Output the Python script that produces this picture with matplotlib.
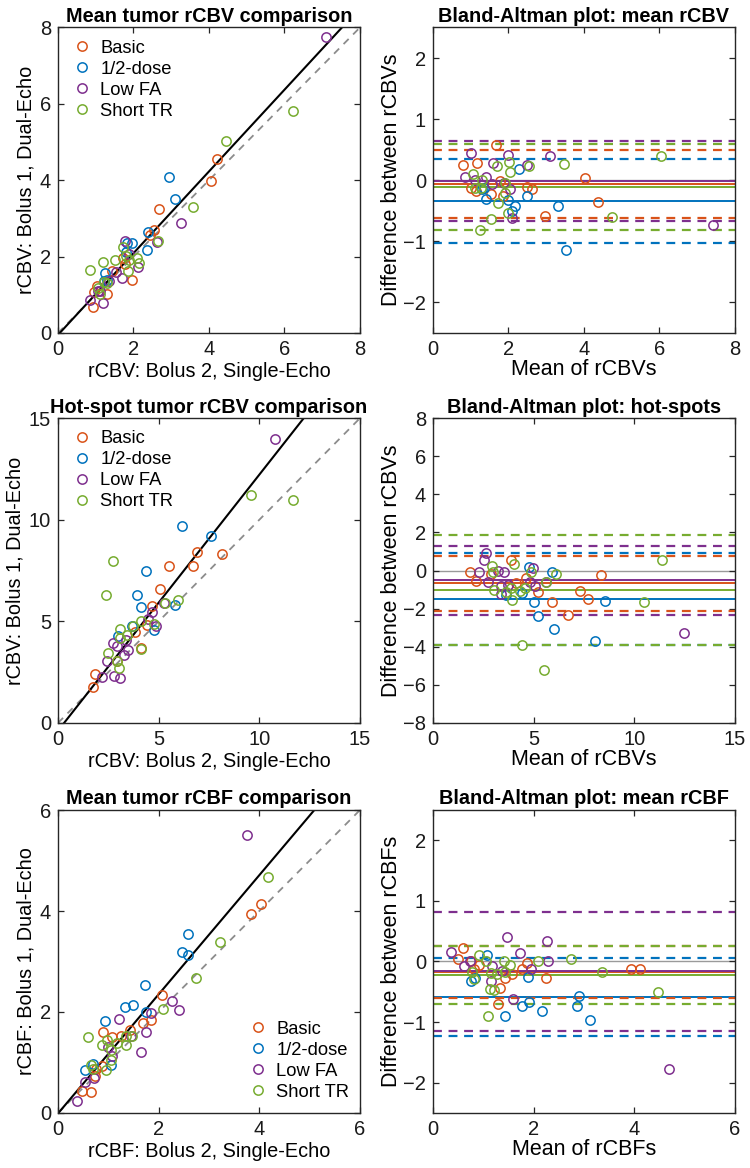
import matplotlib
matplotlib.use('Agg')
import matplotlib.pyplot as plt
from matplotlib.lines import Line2D

plt.rcParams['font.family'] = ['Liberation Sans', 'DejaVu Sans']

groups = ['Basic', '1/2-dose', 'Low FA', 'Short TR']
colors = ['#D95319', '#0072BD', '#7E2F8E', '#77AC30']

# ---------- Panel A: mean tumor rCBV (x: Bolus 2 single-echo, y: Bolus 1 dual-echo)
cbv_x = [
    [4.20, 4.06, 2.68, 2.55, 2.44, 1.96, 1.42, 1.30, 0.92, 1.72, 1.77, 1.04, 0.95],
    [2.95, 3.10, 2.38, 2.36, 1.95, 1.84, 1.80, 1.25, 1.30, 1.22],
    [7.09, 3.25, 2.62, 1.78, 2.12, 1.70, 1.20, 0.86, 1.53, 1.35, 1.88, 1.05, 1.10],
    [6.22, 4.45, 3.58, 2.64, 1.85, 2.14, 2.08, 1.12, 1.30, 1.06, 1.22, 1.88, 1.80, 1.52, 1.20, 1.72, 0.84],
]
cbv_y = [
    [4.55, 3.99, 3.24, 2.70, 2.56, 1.38, 1.63, 1.02, 0.68, 1.97, 1.80, 1.23, 1.08],
    [4.08, 3.52, 2.64, 2.16, 2.35, 2.36, 2.12, 1.56, 1.40, 1.35],
    [7.76, 2.87, 2.39, 2.41, 1.74, 1.45, 0.78, 0.87, 1.61, 1.35, 2.08, 1.09, 1.10],
    [5.82, 5.02, 3.30, 2.42, 1.62, 1.82, 1.96, 1.02, 1.30, 1.18, 1.34, 1.92, 2.02, 1.90, 1.86, 2.26, 1.64],
]
cbv_fit = (1.07, -0.05)  # slope, intercept

# ---------- Panel B: Bland-Altman mean rCBV
ba_cbv_mean = [
    [4.38, 4.03, 2.96, 2.63, 2.50, 1.67, 1.53, 1.16, 0.80, 1.85, 1.78, 1.13, 1.01],
    [3.52, 3.32, 2.50, 2.27, 2.16, 2.10, 2.00, 1.41, 1.34, 1.30],
    [7.43, 3.09, 2.50, 2.10, 1.98, 1.60, 1.02, 0.85, 1.57, 1.40, 2.04, 1.10, 1.88],
    [6.05, 4.75, 3.46, 2.54, 1.70, 2.01, 2.04, 1.07, 1.31, 1.12, 1.27, 1.91, 1.92, 1.73, 1.55, 1.99, 1.25],
]
ba_cbv_diff = [
    [-0.36, 0.04, -0.59, -0.15, -0.11, 0.58, -0.22, 0.29, 0.25, -0.26, -0.01, -0.18, -0.12],
    [-1.14, -0.42, -0.26, 0.19, -0.42, -0.51, -0.32, -0.31, -0.12, -0.14],
    [-0.74, 0.39, 0.25, -0.62, 0.42, 0.28, 0.44, 0.05, -0.06, 0.05, -0.15, 0.01, -0.04],
    [0.39, -0.60, 0.26, 0.24, 0.23, 0.30, 0.13, 0.10, 0.01, -0.12, -0.12, -0.04, -0.21, -0.38, -0.63, -0.54, -0.81],
]
ba_cbv_bias = [-0.06, -0.34, -0.005, -0.105]
ba_cbv_upper = [0.50, 0.345, 0.65, 0.60]
ba_cbv_lower = [-0.62, -1.02, -0.66, -0.81]

# ---------- Panel C: hot-spot tumor rCBV
hot_x = [
    [6.92, 8.16, 6.72, 5.51, 5.05, 4.65, 4.44, 3.81, 1.84, 1.75, 2.91, 4.11],
    [6.14, 7.62, 4.39, 3.91, 4.14, 5.79, 4.77, 3.69, 3.00],
    [10.76, 5.26, 4.67, 4.49, 4.86, 3.38, 2.71, 2.95, 3.48, 3.27, 2.42, 2.19, 2.78, 3.10],
    [11.69, 9.57, 2.75, 2.37, 5.30, 5.96, 4.78, 4.11, 3.72, 3.08, 3.08, 4.11, 2.50, 2.95, 3.03, 3.41],
]
hot_y = [
    [8.39, 8.33, 7.74, 7.74, 6.61, 5.77, 4.84, 4.46, 2.41, 1.75, 3.03, 3.69],
    [9.70, 9.18, 7.46, 6.28, 5.70, 5.82, 4.56, 4.79, 4.30],
    [13.97, 5.92, 5.47, 5.11, 4.75, 4.10, 3.95, 3.77, 3.57, 3.36, 3.03, 2.25, 2.33, 2.21],
    [10.95, 11.23, 7.98, 6.28, 5.92, 6.07, 4.85, 5.00, 4.79, 4.64, 4.20, 3.66, 3.44, 3.03, 2.70, 4.34],
]
hot_fit = (1.26, -0.38)

# ---------- Panel D: Bland-Altman hot-spots
ba_hot_mean = [
    [7.70, 8.36, 7.29, 6.71, 5.91, 5.22, 4.64, 4.14, 2.16, 1.82, 2.90, 3.86],
    [8.03, 8.53, 6.01, 5.23, 5.02, 5.93, 4.77, 4.44, 3.65],
    [12.47, 5.63, 5.07, 4.80, 4.97, 3.74, 3.40, 3.36, 3.53, 3.23, 2.73, 2.27, 2.53, 2.65],
    [11.39, 10.48, 5.51, 4.44, 5.60, 6.09, 4.88, 4.56, 4.30, 3.94, 3.64, 4.02, 3.03, 2.99, 2.91, 3.88],
]
ba_hot_diff = [
    [-1.49, -0.21, -1.05, -2.34, -1.63, -1.14, -0.40, -0.65, -0.53, -0.05, -0.18, 0.53],
    [-3.69, -1.60, -3.08, -2.37, -1.67, -0.09, 0.21, -1.18, -1.30],
    [-3.29, -0.62, -0.79, -0.58, 0.14, -0.75, -1.23, -0.82, -0.05, 0.00, -0.61, -0.09, 0.53, 0.91],
    [0.56, -1.67, -5.22, -3.92, -0.62, -0.18, -0.09, -0.89, -1.07, -1.55, -1.12, 0.35, -1.00, -0.08, 0.26, -0.93],
]
ba_hot_bias = [-0.66, -1.50, -0.52, -1.03]
ba_hot_upper = [0.79, 0.93, 1.28, 1.85]
ba_hot_lower = [-2.11, -3.92, -2.32, -3.92]

# ---------- Panel E: mean tumor rCBF
cbf_x = [
    [4.03, 3.84, 2.07, 1.84, 1.68, 1.43, 1.25, 1.08, 0.90, 0.66, 0.48, 0.74, 0.88, 0.75],
    [2.59, 2.47, 2.59, 1.72, 1.34, 1.50, 1.74, 0.93, 0.54, 1.06, 0.69],
    [3.75, 2.27, 2.40, 1.85, 1.21, 1.75, 1.64, 1.08, 1.45, 0.38, 0.54, 0.72, 0.99],
    [4.17, 3.22, 2.74, 2.09, 0.60, 1.48, 1.36, 0.98, 0.88, 1.05, 1.18, 0.96, 1.05, 0.70, 0.66, 1.35],
]
cbf_y = [
    [4.14, 3.94, 2.34, 1.85, 1.78, 1.65, 1.53, 1.50, 1.60, 0.42, 0.44, 0.74, 0.94, 0.88],
    [3.55, 3.18, 3.13, 2.54, 2.09, 2.13, 2.00, 1.83, 0.86, 0.96, 0.97],
    [5.50, 2.21, 2.03, 1.98, 1.86, 1.60, 1.21, 1.13, 1.52, 0.23, 0.61, 0.70, 1.30],
    [4.68, 3.39, 2.67, 2.05, 1.50, 1.52, 1.34, 1.45, 1.35, 1.24, 1.38, 0.86, 1.04, 0.87, 0.95, 1.53],
]
cbf_fit = (1.18, -0.01)

# ---------- Panel F: Bland-Altman mean rCBF
ba_cbf_mean = [
    [3.93, 4.11, 2.24, 1.87, 1.77, 1.57, 1.44, 1.33, 1.29, 0.60, 0.50, 0.75, 0.91, 0.81],
    [3.11, 2.86, 2.91, 2.17, 1.76, 1.91, 1.89, 1.43, 0.75, 1.08, 0.83],
    [4.68, 2.29, 2.26, 1.94, 1.58, 1.73, 1.48, 1.17, 1.38, 0.35, 0.62, 0.74, 1.15],
    [4.48, 3.35, 2.75, 2.09, 1.10, 1.54, 1.41, 1.21, 1.13, 1.15, 1.28, 0.91, 1.05, 0.78, 0.81, 1.44],
]
ba_cbf_diff = [
    [-0.12, -0.13, -0.28, -0.03, -0.12, -0.21, -0.28, -0.43, -0.70, 0.23, 0.04, 0.01, -0.06, -0.13],
    [-0.96, -0.73, -0.57, -0.82, -0.73, -0.67, -0.25, -0.90, -0.32, 0.10, -0.28],
    [-1.77, 0.01, 0.34, -0.13, -0.62, 0.14, 0.41, -0.08, -0.15, 0.16, -0.08, 0.01, -0.32],
    [-0.51, -0.18, 0.04, 0.01, -0.90, -0.06, 0.01, -0.47, -0.45, -0.19, -0.21, 0.10, 0.01, -0.17, -0.29, -0.18],
]
ba_cbf_bias = [-0.17, -0.59, -0.165, -0.225]
ba_cbf_upper = [0.26, 0.05, 0.81, 0.26]
ba_cbf_lower = [-0.60, -1.23, -1.14, -0.70]

# ---------------------------------------------------------------
AX_COL = '#262626'
TICK_FS = 14.5
TITLE_FS = 14.3
SC_LABEL_FS = 14.3
BA_LABEL_FS = 15.5
LEG_FS = 13.2
MS = 6.7
MEW = 1.1

fig = plt.figure(figsize=(7.5, 11.68), dpi=100)
lefts = [0.0773, 0.5773]
W = 0.4027
rows = [(0.7149, 0.2616), (0.381, 0.2610), (0.0471, 0.2594)]


def style(ax):
    for s in ax.spines.values():
        s.set_color(AX_COL)
        s.set_linewidth(1.0)
    ax.tick_params(direction='in', length=4, width=0.9, top=True, right=True,
                   labelsize=TICK_FS, colors=AX_COL, labelcolor='#1a1a1a', pad=5)


def scatter_panel(ax, xs, ys, fit, lim, ticks, title, xlabel, ylabel, legloc):
    ax.plot([0, lim], [0, lim], ls=(0, (4, 3.5)), color='#8c8c8c', lw=1.3, zorder=1)
    ax.axline((0, fit[1]), slope=fit[0], color='black', lw=1.5, zorder=2)
    for g in range(4):
        ax.plot(xs[g], ys[g], ls='none', marker='o', ms=MS, mfc='none',
                mec=colors[g], mew=MEW, zorder=3)
    ax.set_xlim(0, lim)
    ax.set_ylim(0, lim)
    ax.set_xticks(ticks)
    ax.set_yticks(ticks)
    ax.set_title(title, fontsize=TITLE_FS, fontweight='bold', pad=4)
    ax.set_xlabel(xlabel, fontsize=SC_LABEL_FS, labelpad=2)
    ax.set_ylabel(ylabel, fontsize=SC_LABEL_FS, labelpad=3)
    handles = [Line2D([], [], ls='none', marker='o', ms=MS, mfc='none',
                      mec=colors[g], mew=MEW) for g in range(4)]
    if legloc == 'ul':
        ax.legend(handles, groups, loc='upper left', bbox_to_anchor=(0.055, 0.96),
                  frameon=False, fontsize=LEG_FS, handlelength=0.8, handletextpad=0.6,
                  labelspacing=0.22, borderaxespad=0, borderpad=0)
    else:
        ax.legend(handles, groups, loc='lower right', bbox_to_anchor=(0.965, 0.04),
                  frameon=False, fontsize=LEG_FS, handlelength=0.8, handletextpad=0.6,
                  labelspacing=0.22, borderaxespad=0, borderpad=0)
    style(ax)


def ba_panel(ax, means, diffs, bias, upper, lower, xlim, ylim, xticks, yticks,
             title, xlabel, ylabel):
    ax.axhline(0, color='#9a9a9a', lw=1.0, zorder=1)
    for g in range(4):
        ax.axhline(bias[g], color=colors[g], lw=1.4, zorder=2)
    for g in range(4):
        ax.axhline(upper[g], color=colors[g], lw=1.6, ls=(0, (4, 3)), zorder=2)
        ax.axhline(lower[g], color=colors[g], lw=1.6, ls=(0, (4, 3)), zorder=2)
    for g in range(4):
        ax.plot(means[g], diffs[g], ls='none', marker='o', ms=MS, mfc='none',
                mec=colors[g], mew=MEW, zorder=3)
    ax.set_xlim(*xlim)
    ax.set_ylim(*ylim)
    ax.set_xticks(xticks)
    ax.set_yticks(yticks)
    ax.set_title(title, fontsize=TITLE_FS, fontweight='bold', pad=4)
    ax.set_xlabel(xlabel, fontsize=BA_LABEL_FS, labelpad=0)
    ax.set_ylabel(ylabel, fontsize=BA_LABEL_FS, labelpad=1)
    style(ax)


axA = fig.add_axes([lefts[0], rows[0][0], W, rows[0][1]])
axB = fig.add_axes([lefts[1], rows[0][0], W, rows[0][1]])
axC = fig.add_axes([lefts[0], rows[1][0], W, rows[1][1]])
axD = fig.add_axes([lefts[1], rows[1][0], W, rows[1][1]])
axE = fig.add_axes([lefts[0], rows[2][0], W, rows[2][1]])
axF = fig.add_axes([lefts[1], rows[2][0], W, rows[2][1]])

scatter_panel(axA, cbv_x, cbv_y, cbv_fit, 8, [0, 2, 4, 6, 8],
              'Mean tumor rCBV comparison', 'rCBV: Bolus 2, Single-Echo',
              'rCBV: Bolus 1, Dual-Echo', 'ul')
ba_panel(axB, ba_cbv_mean, ba_cbv_diff, ba_cbv_bias, ba_cbv_upper, ba_cbv_lower,
         (0, 8), (-2.5, 2.5), [0, 2, 4, 6, 8], [-2, -1, 0, 1, 2],
         'Bland-Altman plot: mean rCBV', 'Mean of rCBVs', 'Difference between rCBVs')
scatter_panel(axC, hot_x, hot_y, hot_fit, 15, [0, 5, 10, 15],
              'Hot-spot tumor rCBV comparison', 'rCBV: Bolus 2, Single-Echo',
              'rCBV: Bolus 1, Dual-Echo', 'ul')
ba_panel(axD, ba_hot_mean, ba_hot_diff, ba_hot_bias, ba_hot_upper, ba_hot_lower,
         (0, 15), (-8, 8), [0, 5, 10, 15], [-8, -6, -4, -2, 0, 2, 4, 6, 8],
         'Bland-Altman plot: hot-spots', 'Mean of rCBVs', 'Difference between rCBVs')
scatter_panel(axE, cbf_x, cbf_y, cbf_fit, 6, [0, 2, 4, 6],
              'Mean tumor rCBF comparison', 'rCBF: Bolus 2, Single-Echo',
              'rCBF: Bolus 1, Dual-Echo', 'lr')
ba_panel(axF, ba_cbf_mean, ba_cbf_diff, ba_cbf_bias, ba_cbf_upper, ba_cbf_lower,
         (0, 6), (-2.5, 2.5), [0, 2, 4, 6], [-2, -1, 0, 1, 2],
         'Bland-Altman plot: mean rCBF', 'Mean of rCBFs', 'Difference between rCBFs')

fig.savefig('out.png', dpi=100)
